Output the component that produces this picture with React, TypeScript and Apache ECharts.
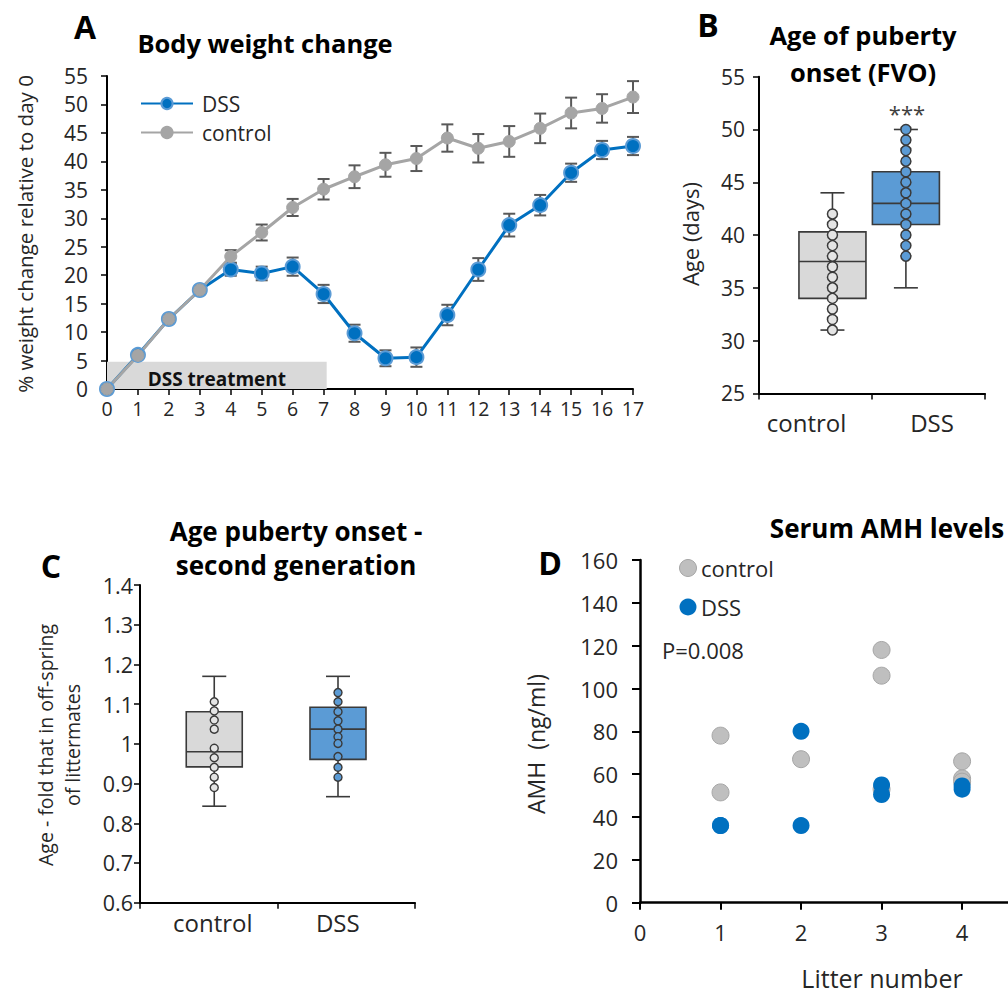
import React, { useEffect, useRef } from "react";
import * as echarts from "echarts";

const FONT = "'Open Sans', sans-serif";
const TXT = "#262626";

// ---------- Panel A: body weight change ----------
const days = [0, 1, 2, 3, 4, 5, 6, 7, 8, 9, 10, 11, 12, 13, 14, 15, 16, 17];
const dssWeight = [0, 6, 12.3, 17.4, 21, 20.3, 21.5, 16.7, 9.8, 5.4, 5.6, 13, 21, 28.8, 32.3, 38, 42, 42.7];
const dssErr = [0, 0.4, 0.5, 0.6, 1.1, 1.2, 1.6, 1.6, 1.5, 1.4, 1.7, 1.8, 2.0, 2.0, 1.8, 1.6, 1.6, 1.6];
const controlWeight = [0, 5.9, 12.3, 17.4, 23.3, 27.5, 31.9, 35.1, 37.3, 39.4, 40.5, 44.1, 42.3, 43.5, 45.8, 48.5, 49.3, 51.3];
const controlErr = [0, 0.4, 0.5, 0.6, 1.1, 1.4, 1.5, 1.8, 2.0, 2.1, 2.2, 2.4, 2.5, 2.7, 2.6, 2.7, 2.5, 2.8];
const treatmentEndDay = 7.1;
const treatmentBandTop = 4.8;

// ---------- Panel B: age of puberty onset (FVO) ----------
const groups = ["control", "DSS"];
const fvoControlDots = [31, 32, 33, 34, 35, 36, 37, 38, 39, 40, 41, 42];
const fvoDssDots = [38, 39, 40, 41, 42, 43, 44, 45, 46, 47, 48, 49, 50];
// [min, q1, median, q3, max]
const fvoControlBox = [31, 34, 37.5, 40.3, 44];
const fvoDssBox = [35, 41, 43, 46, 50];

// ---------- Panel C: second generation ----------
const gen2ControlDots = [1.106, 1.083, 1.06, 1.037, 0.989, 0.965, 0.941, 0.916, 0.89];
const gen2DssDots = [1.129, 1.106, 1.081, 1.058, 1.037, 1.018, 1.001, 0.968, 0.941, 0.916];
const gen2ControlBox = [0.843, 0.942, 0.98, 1.081, 1.17];
const gen2DssBox = [0.867, 0.961, 1.037, 1.092, 1.17];

// ---------- Panel D: serum AMH ----------
const amhControlLitter = [1, 1, 2, 3, 3, 3, 4, 4, 4];
const amhControlValue = [78, 51.5, 67, 118, 106, 53, 66, 58, 56.5];
const amhDssLitter = [1, 1, 2, 2, 3, 3, 4, 4];
const amhDssValue = [36, 36, 80, 36, 55, 50.5, 53, 54.5];
const litterAxisMax = 4.57; // axis runs off the right edge of the figure

// layout positions of the boxes inside the two-category panels (x in category units)
const POS_B = [0.65, 1.3];
const POS_C = [0.54, 1.44];

const BLUE = "#0070c0";
const LIGHTBLUE = "#5b9bd5";
const GREY = "#a5a5a5";
const BOX_GREY = "#d9d9d9";
const EDGE = "#3a3a3a";

function boxRenderer(boxWidth: number, capWidth: number) {
  return (params: any, api: any) => {
    const x = api.value(0);
    const p = (v: number) => api.coord([x, v]);
    const [cx, yMin] = p(api.value(1));
    const yQ1 = p(api.value(2))[1];
    const yMed = p(api.value(3))[1];
    const yQ3 = p(api.value(4))[1];
    const yMax = p(api.value(5))[1];
    const fill = api.visual("color");
    const ls = { stroke: EDGE, lineWidth: 1.6 };
    return {
      type: "group",
      children: [
        { type: "line", shape: { x1: cx, y1: yMin, x2: cx, y2: yQ1 }, style: ls },
        { type: "line", shape: { x1: cx, y1: yQ3, x2: cx, y2: yMax }, style: ls },
        { type: "line", shape: { x1: cx - capWidth / 2, y1: yMin, x2: cx + capWidth / 2, y2: yMin }, style: ls },
        { type: "line", shape: { x1: cx - capWidth / 2, y1: yMax, x2: cx + capWidth / 2, y2: yMax }, style: ls },
        {
          type: "rect",
          shape: { x: cx - boxWidth / 2, y: yQ3, width: boxWidth, height: yQ1 - yQ3 },
          style: { fill, stroke: EDGE, lineWidth: 1.6 },
        },
        { type: "line", shape: { x1: cx - boxWidth / 2, y1: yMed, x2: cx + boxWidth / 2, y2: yMed }, style: ls },
      ],
    };
  };
}

function errRenderer(capHalf: number) {
  return (params: any, api: any) => {
    const x = api.value(0);
    const lo = api.coord([x, api.value(1)]);
    const hi = api.coord([x, api.value(2)]);
    const st = { stroke: "#595959", lineWidth: 2 };
    return {
      type: "group",
      children: [
        { type: "line", shape: { x1: lo[0], y1: lo[1], x2: hi[0], y2: hi[1] }, style: st },
        { type: "line", shape: { x1: lo[0] - capHalf, y1: lo[1], x2: lo[0] + capHalf, y2: lo[1] }, style: st },
        { type: "line", shape: { x1: hi[0] - capHalf, y1: hi[1], x2: hi[0] + capHalf, y2: hi[1] }, style: st },
      ],
    };
  };
}

const axisLine = (w = 2) => ({ show: true, lineStyle: { color: "#000", width: w } });
const label = (size: number, margin: number, extra: any = {}) => ({
  fontFamily: FONT,
  fontSize: size,
  color: TXT,
  margin,
  ...extra,
});

function txt(text: string, x: number, y: number, size: number, opts: any = {}) {
  const { rotation, bold, align, lineHeight } = opts;
  return {
    type: "text",
    x,
    y,
    rotation: rotation || 0,
    z: 10,
    style: {
      text,
      fill: opts.color || "#000",
      fontFamily: FONT,
      fontSize: size,
      fontWeight: bold ? "bold" : "normal",
      align: align || "center",
      verticalAlign: "middle",
      lineHeight: lineHeight || size * 1.25,
    },
  };
}

export default function App() {
  const ref = useRef<HTMLDivElement>(null);

  useEffect(() => {
    if (!ref.current) return;
    const chart = echarts.init(ref.current, null, { renderer: "svg" });

    const boxDataB = [
      { value: [POS_B[0], ...fvoControlBox], itemStyle: { color: BOX_GREY } },
      { value: [POS_B[1], ...fvoDssBox], itemStyle: { color: LIGHTBLUE } },
    ];
    const boxDataC = [
      { value: [POS_C[0], ...gen2ControlBox], itemStyle: { color: BOX_GREY } },
      { value: [POS_C[1], ...gen2DssBox], itemStyle: { color: LIGHTBLUE } },
    ];

    const option: any = {
      animation: false,
      backgroundColor: "#fff",
      textStyle: { fontFamily: FONT },
      grid: [
        { left: 107, top: 76, width: 526, height: 313 },
        { left: 759, top: 76.7, width: 226, height: 316.7 },
        { left: 140, top: 585, width: 275, height: 317.7 },
        { left: 640, top: 560, width: 368, height: 342.7 },
      ],
      xAxis: [
        {
          type: "value",
          gridIndex: 0,
          min: 0,
          max: 17,
          interval: 1,
          axisLine: axisLine(2),
          axisTick: { show: true, length: 6, lineStyle: { color: "#000", width: 1.5 } },
          splitLine: { show: false },
          axisLabel: label(19.5, 9),
        },
        {
          type: "category",
          gridIndex: 1,
          data: [
            { value: groups[0], textStyle: { padding: [0, 18, 0, 0] } },
            { value: groups[1], textStyle: { padding: [0, 0, 0, 7] } },
          ],
          boundaryGap: true,
          axisLine: axisLine(2),
          axisTick: { show: true, interval: 0, length: 6, lineStyle: { color: "#000", width: 1.5 } },
          axisLabel: label(24, 17),
        },
        { type: "value", gridIndex: 1, min: 0, max: 2, show: false },
        {
          type: "category",
          gridIndex: 2,
          data: [
            { value: groups[0], textStyle: { padding: [0, 0, 0, 8] } },
            { value: groups[1], textStyle: { padding: [0, 17, 0, 0] } },
          ],
          boundaryGap: true,
          axisLine: axisLine(2),
          axisTick: { show: true, interval: 0, length: 6, lineStyle: { color: "#000", width: 1.5 } },
          axisLabel: label(24, 8),
        },
        { type: "value", gridIndex: 2, min: 0, max: 2, show: false },
        {
          type: "value",
          gridIndex: 3,
          min: 0,
          max: litterAxisMax,
          interval: 1,
          axisLine: axisLine(2.5),
          axisTick: { show: true, length: 7, lineStyle: { color: "#000", width: 2 } },
          splitLine: { show: false },
          axisLabel: label(22, 18, {
            showMaxLabel: false,
            formatter: (v: number) => (Number.isInteger(v) ? String(v) : ""),
          }),
        },
      ],
      yAxis: [
        {
          type: "value",
          gridIndex: 0,
          min: 0,
          max: 55,
          interval: 5,
          axisLine: axisLine(2),
          axisTick: { show: true, length: 6, lineStyle: { color: "#000", width: 1.5 } },
          splitLine: { show: false },
          axisLabel: label(21, 19),
        },
        {
          type: "value",
          gridIndex: 1,
          min: 25,
          max: 55,
          interval: 5,
          axisLine: axisLine(2),
          axisTick: { show: true, length: 6, lineStyle: { color: "#000", width: 1.5 } },
          splitLine: { show: false },
          axisLabel: label(21, 14),
        },
        {
          type: "value",
          gridIndex: 2,
          min: 0.6,
          max: 1.4,
          interval: 0.1,
          axisLine: axisLine(2),
          axisTick: { show: true, length: 6, lineStyle: { color: "#000", width: 1.5 } },
          splitLine: { show: false },
          axisLabel: label(21.5, 7),
        },
        {
          type: "value",
          gridIndex: 3,
          min: 0,
          max: 160,
          interval: 20,
          axisLine: axisLine(2.5),
          axisTick: { show: true, length: 8, lineStyle: { color: "#000", width: 2 } },
          splitLine: { show: false },
          axisLabel: label(22, 22),
        },
      ],
      legend: [
        {
          data: ["DSS", "control"],
          orient: "vertical",
          left: 135,
          top: 88,
          itemWidth: 52,
          itemHeight: 14,
          itemGap: 8,
          textStyle: { fontFamily: FONT, fontSize: 21, color: TXT, padding: [0, 0, 0, 4] },
        },
      ],
      series: [
        {
          name: "DSS err",
          type: "custom",
          xAxisIndex: 0,
          yAxisIndex: 0,
          z: 2,
          renderItem: errRenderer(6),
          data: days.map((d, i) => [d, dssWeight[i] - dssErr[i], dssWeight[i] + dssErr[i]]),
        },
        {
          name: "control err",
          type: "custom",
          xAxisIndex: 0,
          yAxisIndex: 0,
          z: 2,
          renderItem: errRenderer(6),
          data: days.map((d, i) => [d, controlWeight[i] - controlErr[i], controlWeight[i] + controlErr[i]]),
        },
        {
          name: "DSS",
          type: "line",
          xAxisIndex: 0,
          yAxisIndex: 0,
          z: 3,
          data: days.map((d, i) => [d, dssWeight[i]]),
          symbol: "circle",
          symbolSize: 14,
          lineStyle: { color: BLUE, width: 3 },
          itemStyle: { color: BLUE, borderColor: LIGHTBLUE, borderWidth: 2 },
          markArea: {
            silent: true,
            itemStyle: { color: BOX_GREY },
            label: {
              show: true,
              position: "insideBottom",
              distance: 1,
              fontFamily: FONT,
              fontWeight: "bold",
              fontSize: 19,
              color: "#111",
            },
            data: [[{ name: "DSS treatment", coord: [0, -0.3] }, { coord: [treatmentEndDay, treatmentBandTop] }]],
          },
        },
        {
          name: "control",
          type: "line",
          xAxisIndex: 0,
          yAxisIndex: 0,
          z: 3,
          data: days.map((d, i) => [d, controlWeight[i]]),
          symbol: "circle",
          symbolSize: 12,
          lineStyle: { color: GREY, width: 3 },
          itemStyle: { color: GREY, borderColor: GREY, borderWidth: 1 },
        },
        // Panel B
        {
          name: "FVO box",
          type: "custom",
          xAxisIndex: 2,
          yAxisIndex: 1,
          z: 2,
          renderItem: boxRenderer(67, 24),
          data: boxDataB,
        },
        {
          name: "FVO control",
          type: "scatter",
          xAxisIndex: 2,
          yAxisIndex: 1,
          z: 4,
          symbolSize: 10,
          itemStyle: { color: "#e4e4e4", borderColor: EDGE, borderWidth: 1.5, opacity: 1 },
          data: fvoControlDots.map((v) => [POS_B[0], v]),
        },
        {
          name: "FVO DSS",
          type: "scatter",
          xAxisIndex: 2,
          yAxisIndex: 1,
          z: 4,
          symbolSize: 10,
          itemStyle: { color: LIGHTBLUE, borderColor: EDGE, borderWidth: 1.5, opacity: 1 },
          data: fvoDssDots.map((v) => [POS_B[1], v]),
        },
        // Panel C
        {
          name: "Gen2 box",
          type: "custom",
          xAxisIndex: 4,
          yAxisIndex: 2,
          z: 2,
          renderItem: boxRenderer(56, 24),
          data: boxDataC,
        },
        {
          name: "Gen2 control",
          type: "scatter",
          xAxisIndex: 4,
          yAxisIndex: 2,
          z: 4,
          symbolSize: 8,
          itemStyle: { color: "#e4e4e4", borderColor: EDGE, borderWidth: 1.4, opacity: 1 },
          data: gen2ControlDots.map((v) => [POS_C[0], v]),
        },
        {
          name: "Gen2 DSS",
          type: "scatter",
          xAxisIndex: 4,
          yAxisIndex: 2,
          z: 4,
          symbolSize: 8,
          itemStyle: { color: LIGHTBLUE, borderColor: EDGE, borderWidth: 1.4, opacity: 1 },
          data: gen2DssDots.map((v) => [POS_C[1], v]),
        },
        // Panel D
        {
          name: "AMH control",
          type: "scatter",
          xAxisIndex: 5,
          yAxisIndex: 3,
          z: 3,
          symbolSize: 17,
          itemStyle: { color: "#bfbfbf", borderColor: "#a6a6a6", borderWidth: 1, opacity: 1 },
          data: amhControlLitter.map((l, i) => [l, amhControlValue[i]]),
        },
        {
          name: "AMH DSS",
          type: "scatter",
          xAxisIndex: 5,
          yAxisIndex: 3,
          z: 3,
          symbolSize: 17,
          itemStyle: { color: BLUE, opacity: 1 },
          data: amhDssLitter.map((l, i) => [l, amhDssValue[i]]),
        },
      ],
      graphic: [
        // panel letters
        txt("A", 85, 26, 32, { bold: true }),
        txt("B", 708, 24, 32, { bold: true }),
        txt("C", 51, 565, 32, { bold: true }),
        txt("D", 550, 562, 32, { bold: true }),
        // titles
        txt("Body weight change", 265, 43, 25.5, { bold: true }),
        txt("Age of puberty\nonset (FVO)", 863, 53, 25.5, { bold: true, lineHeight: 37 }),
        txt("Age puberty onset -\nsecond generation", 296, 548, 26, { bold: true, lineHeight: 34 }),
        txt("Serum AMH levels", 887, 528, 26, { bold: true }),
        // axis names
        txt("% weight change relative to day 0", 25, 234, 20.5, { rotation: Math.PI / 2, color: TXT }),
        txt("Age (days)", 690, 234, 22, { rotation: Math.PI / 2, color: TXT }),
        txt("Age - fold that in off-spring\nof littermates", 59, 745, 19.5, {
          rotation: Math.PI / 2,
          color: TXT,
          lineHeight: 27,
        }),
        txt("AMH  (ng/ml)", 536, 744, 23, { rotation: Math.PI / 2, color: TXT }),
        txt("Litter number", 882, 978, 25, { color: TXT, lineHeight: 26 }),
        // annotations
        txt("***", 907, 113, 22, { color: "#404040" }),
        txt("P=0.008", 662, 650, 22, { align: "left", color: TXT }),
        // legend of D
        {
          type: "circle",
          shape: { cx: 688, cy: 568, r: 8.5 },
          style: { fill: "#bfbfbf", stroke: "#a6a6a6", lineWidth: 1 },
        },
        txt("control", 701, 568, 22, { align: "left", color: TXT }),
        {
          type: "circle",
          shape: { cx: 688, cy: 607, r: 8.5 },
          style: { fill: BLUE },
        },
        txt("DSS", 701, 607, 22, { align: "left", color: TXT }),
      ],
    };

    chart.setOption(option);
    return () => chart.dispose();
  }, []);

  return (
    <div
      ref={ref}
      style={{ position: "fixed", left: 0, top: 0, width: 1008, height: 996, background: "#fff" }}
    />
  );
}
